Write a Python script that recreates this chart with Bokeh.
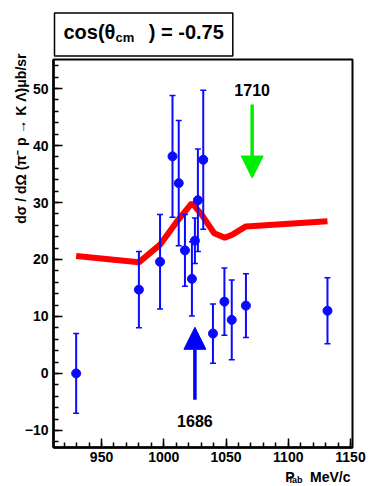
import math
from bokeh.plotting import figure
from bokeh.models import (Range1d, SingleIntervalTicker, Whisker, ColumnDataSource,
                          Label, Arrow, NormalHead, TeeHead)
from bokeh.embed import file_html
from bokeh.resources import INLINE

# measured differential cross section, pi- p -> K Lambda at cos(theta_cm) = -0.75
plab = [929.6, 980, 997, 1007, 1012, 1017, 1022.6, 1025, 1027.4, 1031.7,
        1039.5, 1048.7, 1054.6, 1066, 1131.5]
xsec = [0.0, 14.7, 19.6, 38.1, 33.4, 21.6, 16.6, 23.3, 30.4, 37.5,
        7.0, 12.6, 9.4, 11.9, 11.0]
xsec_err = [7.0, 6.7, 8.3, 10.7, 11.0, 6.3, 6.5, 4.0, 9.0, 12.2,
            5.2, 5.9, 7.0, 5.6, 5.8]

# model curve
model_plab = [929.6, 980, 997, 1011, 1022.6, 1030, 1040.5, 1049, 1055.4, 1066, 1131.5]
model_xsec = [20.6, 19.5, 22.6, 26.8, 29.9, 28.0, 24.6, 23.8, 24.4, 25.8, 26.7]

# resonance markers (mass in MeV, beam momentum, arrow span, label height)
res_mass = ["1686", "1710"]
res_plab = [1025, 1071]
res_from = [-4.6, 47.2]
res_to = [8.1, 34.3]
res_text_y = [-8.3, 49.8]
res_color = ["#0000ff", "#00ee00"]

FONT = "Liberation Sans"
BLUE = "#0a0aff"

X0, X1 = 911.4, 1151.6
Y0, Y1 = -13.0, 55.1
W, H = 368, 486
BL, BR, BT, BB = 53, 16, 59, 39
FW, FH = W - BL - BR, H - BT - BB

p = figure(width=W, height=H, output_backend="svg", toolbar_location=None, title=None,
           x_range=Range1d(X0, X1), y_range=Range1d(Y0, Y1),
           min_border_left=BL, min_border_right=BR, min_border_top=BT,
           min_border_bottom=BB)
p.background_fill_color = "white"
p.border_fill_color = "white"
p.outline_line_color = "black"
p.outline_line_width = 2
p.grid.visible = False

p.xaxis.ticker = SingleIntervalTicker(interval=50, num_minor_ticks=5)
p.yaxis.ticker = SingleIntervalTicker(interval=10, num_minor_ticks=5)
for ax in (p.xaxis[0], p.yaxis[0]):
    ax.axis_line_width = 2.5
    ax.axis_line_color = "black"
    ax.major_tick_in = 9
    ax.major_tick_out = 0
    ax.minor_tick_in = 5
    ax.minor_tick_out = 0
    ax.major_tick_line_width = 1.5
    ax.minor_tick_line_width = 1.5
    ax.major_tick_line_color = "black"
    ax.minor_tick_line_color = "black"
    ax.major_label_text_font = FONT
    ax.major_label_text_font_style = "bold"
    ax.major_label_text_font_size = "14px"
    ax.major_label_text_color = "black"
p.xaxis.major_label_standoff = 4
p.yaxis.major_label_standoff = 5

# model curve
p.line(model_plab, model_xsec, line_color="#ff0000", line_width=6)

# data with error bars
src = ColumnDataSource(dict(
    x=plab, y=xsec,
    upper=[v + e for v, e in zip(xsec, xsec_err)],
    lower=[v - e for v, e in zip(xsec, xsec_err)],
))
p.add_layout(Whisker(source=src, base="x", upper="upper", lower="lower",
                     line_color=BLUE, line_width=2, level="glyph",
                     upper_head=TeeHead(size=6, line_color=BLUE, line_width=1.5),
                     lower_head=TeeHead(size=6, line_color=BLUE, line_width=1.5)))
p.scatter("x", "y", source=src, size=9, fill_color=BLUE, line_color=BLUE)

# resonance arrows and labels
for m, xr, y0, y1, ty, c in zip(res_mass, res_plab, res_from, res_to, res_text_y, res_color):
    p.add_layout(Arrow(x_start=xr, y_start=y0, x_end=xr, y_end=y1,
                       line_color=c, line_width=3.5,
                       end=NormalHead(size=22, fill_color=c, line_color=c)))
    p.add_layout(Label(x=xr, y=ty, text=m, text_align="center", text_baseline="middle",
                       text_font=FONT, text_font_style="bold", text_font_size="16px",
                       text_color="black"))


# helpers: canvas pixel -> data coordinates (for text placed around the frame)
def fx(px):
    return X0 + (px - BL) * (X1 - X0) / FW


def fy(py):
    return Y0 + (H - BB - py) * (Y1 - Y0) / FH


def outer_label(side, px, py, text, size, **kw):
    opts = dict(x=fx(px), y=fy(py), text=text, text_font=FONT, text_font_style="bold",
                text_font_size=size, text_color="black", text_baseline="alphabetic")
    opts.update(kw)
    p.add_layout(Label(**opts), side)


# boxed title (label background + border)
NB = "\u00a0"
box_style = dict(background_fill_color="white", background_fill_alpha=1,
                 border_line_color="black", border_line_width=1.5, border_line_alpha=1)
try:
    Label(padding=dict(left=9, right=9, top=8, bottom=13))
    box_style["padding"] = dict(left=9, right=9, top=8, bottom=13)
except Exception:
    box_style["padding"] = 10
outer_label("above", 54, 34, "cos(\u03b8" + NB * 6 + ") = -0.75", "20px", **box_style)
outer_label("above", 115, 37, "cm", "13px")

# axis titles
outer_label("left", 20, 53, "d\u03c3 / d\u03a9 (\u03c0\u207b p \u2192 K \u039b)\u03bcb/sr", "14px",
            angle=math.pi / 2, text_align="right", text_baseline="middle")
outer_label("below", 350, 476, "P" + NB * 4 + "MeV/c", "14px", text_align="right")
outer_label("right", 289, 479, "lab", "9px")

open("out.html", "w").write(file_html(p, INLINE))
